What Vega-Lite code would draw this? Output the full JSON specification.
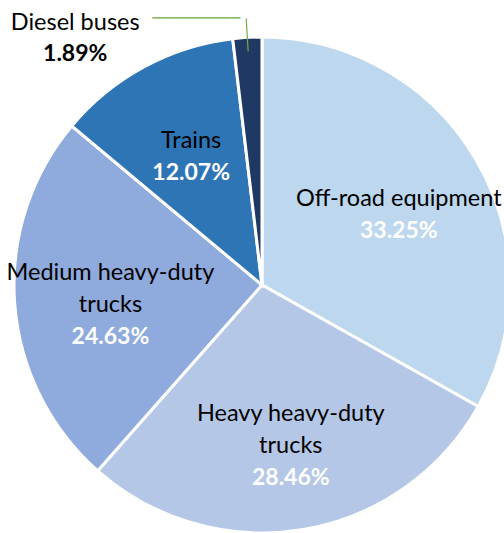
{
  "$schema": "https://vega.github.io/schema/vega-lite/v6.json",
  "width": 484,
  "height": 496,
  "autosize": "none",
  "padding": {"left": 20, "top": 37, "right": 0, "bottom": 0},
  "background": "white",
  "config": {"view": {"stroke": null}, "font": "Lato"},
  "data": {
    "values": [
      {"cat": "Off-road equipment", "label": "Off-road equipment", "share": 0.3325, "ord": 1},
      {"cat": "Heavy heavy-duty trucks", "label": "Heavy heavy-duty|trucks", "share": 0.2846, "ord": 2},
      {"cat": "Medium heavy-duty trucks", "label": "Medium heavy-duty|trucks", "share": 0.2463, "ord": 3},
      {"cat": "Trains", "label": "Trains", "share": 0.1207, "ord": 4},
      {"cat": "Diesel buses", "label": "Diesel buses", "share": 0.0189, "ord": 5}
    ]
  },
  "transform": [
    {"calculate": "datum.cat === 'Diesel buses' ? '' : (indexof(datum.label, '|') >= 0 ? replace(datum.label, '|', '|\u200b|') : '\u200b|' + datum.label)", "as": "nameIn"},
    {"calculate": "datum.cat === 'Diesel buses' ? '' : (indexof(datum.label, '|') >= 0 ? '\u200b|\u200b|\u200b|\u200b|' : '\u200b|\u200b|\u200b|') + format(datum.share, '.2%')", "as": "pctIn"},
    {"calculate": "datum.cat === 'Diesel buses' ? datum.label : ''", "as": "nameOut"},
    {"calculate": "datum.cat === 'Diesel buses' ? format(datum.share, '.2%') : ''", "as": "pctOut"}
  ],
  "encoding": {
    "theta": {"field": "share", "type": "quantitative", "stack": true},
    "order": {"field": "ord", "type": "quantitative"}
  },
  "layer": [
    {
      "mark": {"type": "arc", "radius": 248, "stroke": "white", "strokeWidth": 3},
      "encoding": {
        "color": {
          "field": "cat",
          "type": "nominal",
          "scale": {
            "domain": ["Off-road equipment", "Heavy heavy-duty trucks", "Medium heavy-duty trucks", "Trains", "Diesel buses"],
            "range": ["#BDD7EE", "#B4C7E7", "#8FAADC", "#2E75B6", "#1F3864"]
          },
          "legend": null
        }
      }
    },
    {
      "mark": {"type": "arc", "radius": 267, "radius2": 234, "padAngle": 1, "fill": "transparent", "strokeWidth": 1.2},
      "encoding": {
        "stroke": {"condition": {"test": "datum.cat === 'Diesel buses'", "value": "#70AD47"}, "value": "transparent"}
      }
    },
    {
      "mark": {"type": "text", "radius": 250, "dx": -7, "dy": -16, "align": "right", "baseline": "middle", "font": "DejaVu Sans Mono", "fontSize": 14.6, "color": "#70AD47"},
      "encoding": {
        "text": {"condition": {"test": "datum.cat === 'Diesel buses'", "value": "──────────"}, "value": ""}
      }
    },
    {
      "mark": {"type": "text", "radius": 155, "dx": 3, "dy": -24, "align": "center", "baseline": "middle", "fontSize": 23.5, "lineHeight": 16, "lineBreak": "|", "color": "black"},
      "encoding": {"text": {"field": "nameIn"}}
    },
    {
      "mark": {"type": "text", "radius": 155, "dx": 3, "dy": -24, "align": "center", "baseline": "middle", "fontSize": 23, "fontWeight": "bold", "lineHeight": 16, "lineBreak": "|", "color": "white"},
      "encoding": {"text": {"field": "pctIn"}}
    },
    {
      "mark": {"type": "text", "radius": 250, "dx": -172, "dy": -12, "align": "center", "baseline": "middle", "fontSize": 23.5, "color": "black"},
      "encoding": {"text": {"field": "nameOut"}}
    },
    {
      "mark": {"type": "text", "radius": 250, "dx": -172, "dy": 19, "align": "center", "baseline": "middle", "fontSize": 23, "fontWeight": "bold", "color": "black"},
      "encoding": {"text": {"field": "pctOut"}}
    }
  ]
}
